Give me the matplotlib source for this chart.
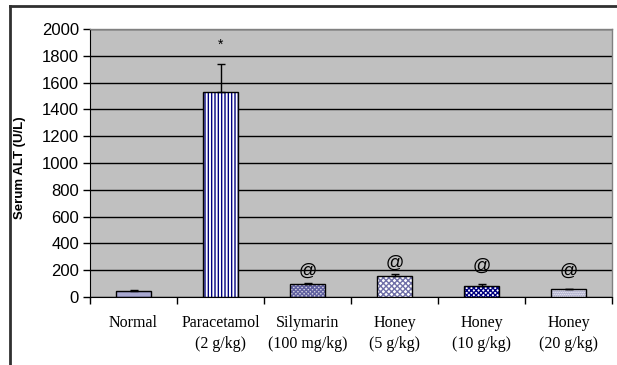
import matplotlib
matplotlib.use("Agg")
import matplotlib.pyplot as plt
from matplotlib.lines import Line2D

categories = ["Normal", "Paracetamol\n(2 g/kg)", "Silymarin\n(100 mg/kg)",
              "Honey\n(5 g/kg)", "Honey\n(10 g/kg)", "Honey\n(20 g/kg)"]
values = [45, 1530, 100, 155, 85, 60]
errors = [5, 210, 8, 15, 12, 3]
marks = ["", "*", "@", "@", "@", "@"]
mark_y = [0, 1880, 190, 250, 230, 195]
yticks = [0, 200, 400, 600, 800, 1000, 1200, 1400, 1600, 1800, 2000]

hatches = ["---", "|||||", "xxxxxxxx", "xxxxxx", "xxxxxxx", "........"]
faces = ["#A8A8D0", "white", "#D0D0E0", "white", "white", "white"]
hatch_cols = ["#8080B0", "#000080", "#6060A0", "#7070A8", "#000080", "#8080B0"]

fig = plt.figure(figsize=(6.17, 3.65), dpi=100)
fig.patch.set_facecolor("white")
W, H = 617, 365
ax = fig.add_axes([90 / W, 1 - 297 / H, (612 - 90) / W, (297 - 29) / H])
ax.set_facecolor("#C0C0C0")

x = list(range(len(categories)))
plt.rcParams["hatch.linewidth"] = 1.0
for i in x:
    ax.bar(i, values[i], width=0.41, color=faces[i], edgecolor=hatch_cols[i],
           hatch=hatches[i], linewidth=0, zorder=3)
    ax.bar(i, values[i], width=0.41, fill=False, edgecolor="black",
           linewidth=1.0, zorder=4)
ax.errorbar(x, values, yerr=[[0] * len(x), errors], fmt="none", ecolor="black",
            elinewidth=1, capsize=3, capthick=1, zorder=5)

for i in x:
    if marks[i]:
        ax.text(i, mark_y[i], marks[i], ha="center", va="center",
                fontsize=13 if marks[i] == "@" else 10,
                family="Liberation Sans", zorder=6)

ax.set_ylim(0, 2000)
ax.set_xlim(-0.5, len(categories) - 0.5)
ax.set_yticks(yticks)
ax.set_yticklabels([str(v) for v in yticks], family="Liberation Sans", fontsize=12)
ax.yaxis.grid(True, color="black", linewidth=1.0, zorder=1)
ax.set_axisbelow(True)

ax.set_xticks(x)
ax.set_xticklabels(categories, family="Liberation Serif", fontsize=11.5,
                   linespacing=1.45)
ax.tick_params(axis="x", which="major", length=0, pad=13)
ax.set_xticks([i - 0.5 for i in range(len(categories) + 1)], minor=True)
ax.tick_params(axis="x", which="minor", length=5, width=1, color="black",
               direction="out")
ax.tick_params(axis="y", length=5, width=1, direction="out", pad=3)

for s in ["top", "right"]:
    ax.spines[s].set_color("#808080")
    ax.spines[s].set_linewidth(1)
ax.spines["left"].set_color("black")
ax.spines["bottom"].set_color("black")

fig.text(20 / W, 1 - 168 / H, "Serum ALT (U/L)", rotation=90, ha="center",
         va="center", fontsize=9.5, fontweight="bold", family="Liberation Sans")

fig.add_artist(Line2D([10 / W, 10 / W], [0, 1 - 6 / H], color="#303030",
                      linewidth=2, transform=fig.transFigure))
fig.add_artist(Line2D([10 / W, 1], [1 - 6 / H, 1 - 6 / H], color="#303030",
                      linewidth=2, transform=fig.transFigure))

fig.savefig("out.png", dpi=100)
